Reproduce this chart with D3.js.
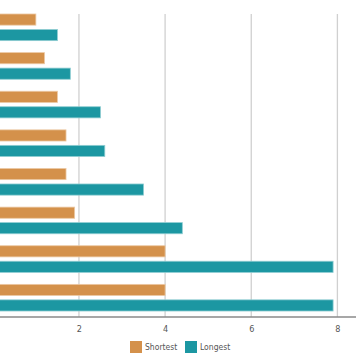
<!DOCTYPE html>
<html>
<head>
<meta charset="utf-8">
<script src="https://cdn.jsdelivr.net/npm/d3@7"></script>
<style>
  html, body { margin: 0; padding: 0; background: #fff; }
  svg { display: block; }
  text { font-family: "DejaVu Sans Condensed", "DejaVu Sans", sans-serif; font-stretch: condensed; }
</style>
</head>
<body>
<svg id="chart" width="356" height="364"></svg>
<script>
const categories = ["C1", "C2", "C3", "C4", "C5", "C6", "C7", "C8"];
const seriesNames = ["Shortest", "Longest"];
const shortest = [1.0, 1.2, 1.5, 1.7, 1.7, 1.9, 4.0, 4.0];
const longest  = [1.5, 1.8, 2.5, 2.6, 3.5, 4.4, 7.9, 7.9];
const xTicks = [2, 4, 6, 8];
const colors = ["#D4914B", "#1C97A2"];

const svg = d3.select("#chart");
const W = 356, H = 364;

const x = d3.scaleLinear().domain([0, 8]).range([-7.2, 337.4]);
const y = d3.scaleBand().domain(categories).range([8, 317]).paddingInner(0.31).paddingOuter(0.155);
const ySub = d3.scaleBand().domain(seriesNames).range([0, y.bandwidth()]).paddingInner(0.28);

// gridlines
svg.append("g").selectAll("line").data(xTicks).join("line")
  .attr("x1", d => x(d)).attr("x2", d => x(d))
  .attr("y1", 14).attr("y2", 317)
  .attr("stroke", "#d0d0d0").attr("stroke-width", 1.3);

const data = categories.map((c, i) => ({ cat: c, vals: [shortest[i], longest[i]] }));

const groups = svg.append("g").selectAll("g").data(data).join("g")
  .attr("transform", d => `translate(0,${y(d.cat)})`);

groups.selectAll("rect").data(d => d.vals.map((v, j) => ({ v, j })))
  .join("rect")
  .attr("x", x(0))
  .attr("y", d => ySub(seriesNames[d.j]))
  .attr("width", d => x(d.v) - x(0))
  .attr("height", ySub.bandwidth())
  .attr("fill", d => colors[d.j])
  .attr("stroke", d => d.j === 0 ? "#ecc9a4" : "#8fcdd2")
  .attr("stroke-width", 0.8);

// x axis
const axis = d3.axisBottom(x).tickValues(xTicks).tickSize(0).tickPadding(9).tickFormat(d3.format("d"));
const ax = svg.append("g").attr("transform", "translate(0,317)").call(axis);
ax.select(".domain").remove();
ax.append("line").attr("x1", 0).attr("x2", W).attr("y1", 0).attr("y2", 0)
  .attr("stroke", "#8a8a8a").attr("stroke-width", 1.5);
ax.selectAll("text").attr("fill", "#555").attr("font-size", 9)
  .style("font-family", "'DejaVu Sans Condensed', 'DejaVu Sans', sans-serif");

// legend
const legend = svg.append("g").attr("transform", "translate(130,341)");
const legX = [0, 55];
const lg = legend.selectAll("g").data(seriesNames).join("g")
  .attr("transform", (d, i) => `translate(${legX[i]},0)`);
lg.append("rect").attr("width", 12).attr("height", 12).attr("fill", (d, i) => colors[i]);
lg.append("text").attr("x", 15).attr("y", 6).attr("dy", "0.35em")
  .attr("font-size", 8.5).attr("fill", "#555").text(d => d);
</script>
</body>
</html>
